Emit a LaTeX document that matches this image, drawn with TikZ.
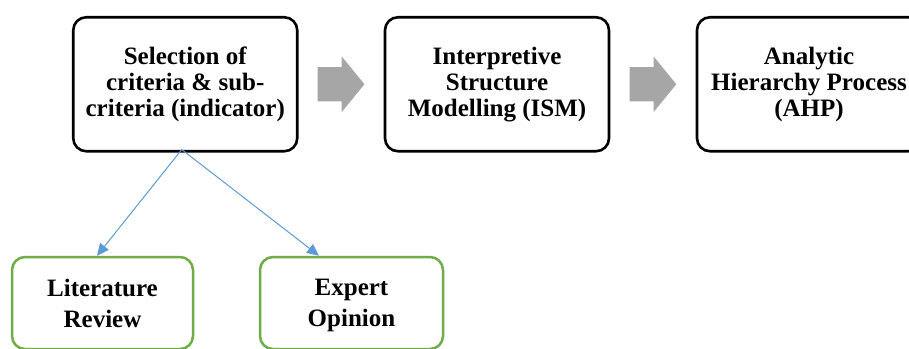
\documentclass[tikz,border=0pt]{standalone}
\usepackage{fontspec}
\setmainfont{Liberation Serif}
\usetikzlibrary{arrows.meta,calc}
\definecolor{linkblue}{HTML}{5B9BD5}
\definecolor{boxgreen}{HTML}{70AD47}
\definecolor{arrowgray}{HTML}{A6A6A6}
\tikzset{
  mainbox/.style={draw=black, line width=2.6pt, rounded corners=13pt,
    minimum width=224pt, minimum height=134pt, align=center,
    font=\bfseries\fontsize{25}{26}\selectfont, inner sep=0pt},
  srcbox/.style={draw=boxgreen, line width=2.5pt, rounded corners=13pt,
    minimum height=92pt, align=center, text depth=0pt,
    font=\bfseries\fontsize{25}{31}\selectfont, inner sep=0pt},
  link/.style={draw=linkblue, line width=1pt, -{Triangle[length=12pt,width=11pt]}},
  blockarrow/.pic={\fill[arrowgray] (-23.4,-17.2) -- (0.6,-17.2) -- (0.6,-27.8)
      -- (23.3,0) -- (0.6,27.8) -- (0.6,17.2) -- (-23.4,17.2) -- cycle;}
}
\begin{document}
\begin{tikzpicture}[x=1pt,y=-1pt]
\useasboundingbox (0,0) rectangle (909,348);
\clip (0,0) rectangle (909,348);
\fill[white] (0,0) rectangle (909,348);
\node[mainbox] (b1) at (185.25,84.25) {Selection of\\criteria \& sub-\\criteria (indicator)};
\node[mainbox] (b2) at (497,84.25) {Interpretive\\Structure\\Modelling (ISM)};
\node[mainbox] (b3) at (809,84.25) {Analytic\\Hierarchy Process\\(AHP)};
\node[srcbox, minimum width=181pt] (lit) at (102.5,303) {Literature\\Review};
\node[srcbox, minimum width=183pt] (exp) at (351.5,303) {Expert\\Opinion};
\pic at ($(b1.east)!0.5!(b2.west)$) {blockarrow};
\pic at ($(b2.east)!0.5!(b3.west)$) {blockarrow};
\coordinate (src) at ([xshift=-3.5pt,yshift=3pt]b1.south);
\coordinate (litin) at ([xshift=-5.5pt]lit.north);
\coordinate (expin) at ([xshift=-32.5pt]exp.north);
\draw[link] (src) -- (litin);
\draw[link] (src) -- (expin);
\end{tikzpicture}
\end{document}
